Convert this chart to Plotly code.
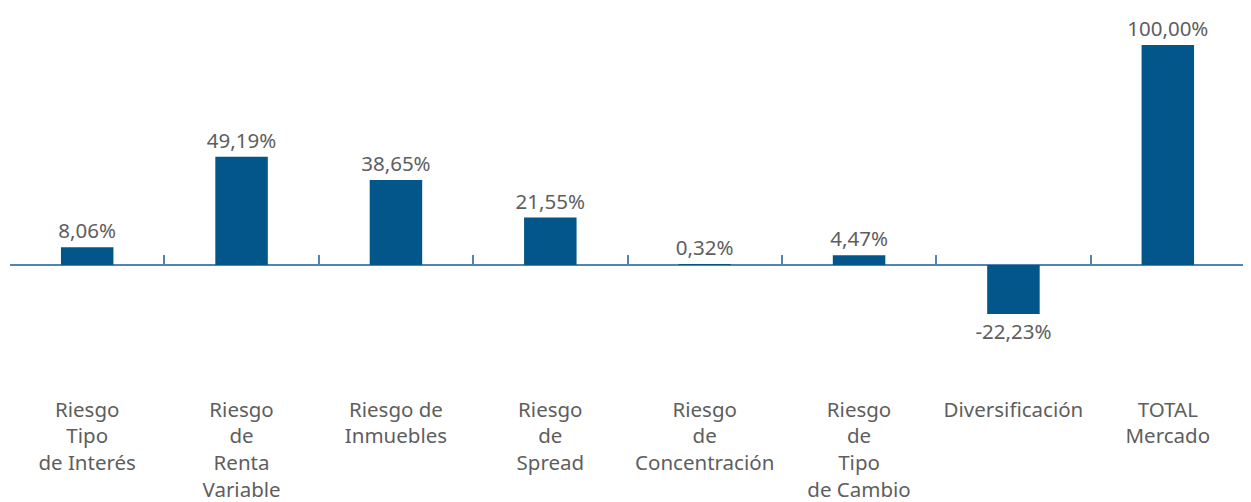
import plotly.graph_objects as go

# categorias y valores (% sobre el total de riesgo de mercado)
categorias = [
    "Riesgo<br>Tipo<br>de Interés",
    "Riesgo<br>de<br>Renta<br>Variable",
    "Riesgo de<br>Inmuebles",
    "Riesgo<br>de<br>Spread",
    "Riesgo<br>de<br>Concentración",
    "Riesgo<br>de<br>Tipo<br>de Cambio",
    "Diversificación",
    "TOTAL<br>Mercado",
]
valores = [8.06, 49.19, 38.65, 21.55, 0.32, 4.47, -22.23, 100.00]

y_min, y_max = -50, 110
azul = "#02568a"
gris = "#5e5e5e"

fig = go.Figure(go.Bar(
    x=categorias,
    y=valores,
    marker_color=azul,
    marker_line_width=0,
    width=0.34,
    texttemplate="%{y:.2f}%",
    textposition="outside",
    constraintext="none",
    textfont=dict(size=20.5, color=gris),
    cliponaxis=False,
))

# el body de la pagina tiene 8px de margen, se compensa aqui
fig.update_layout(
    width=1251, height=502,
    margin=dict(l=2, r=14, t=15, b=135, autoexpand=False),
    plot_bgcolor="white", paper_bgcolor="white",
    separators=",.",
    showlegend=False,
    uniformtext=dict(mode=False),
    font=dict(family="Noto Sans", color=gris),
    yaxis=dict(range=[y_min, y_max], visible=False, showgrid=False, zeroline=False),
    xaxis=dict(
        range=[-0.5, len(categorias) - 0.5],
        anchor="free",
        position=(0 - y_min) / (y_max - y_min),
        automargin=False,
        layer="below traces",
        showline=True, linecolor="#4f84b4", linewidth=2,
        ticks="inside", tickson="boundaries", ticklen=9, tickwidth=2,
        tickcolor="#4f84b4",
        tickfont=dict(size=20.5, color=gris),
        ticklabelstandoff=126,
        showgrid=False, zeroline=False,
    ),
)

fig.write_html("out.html")
